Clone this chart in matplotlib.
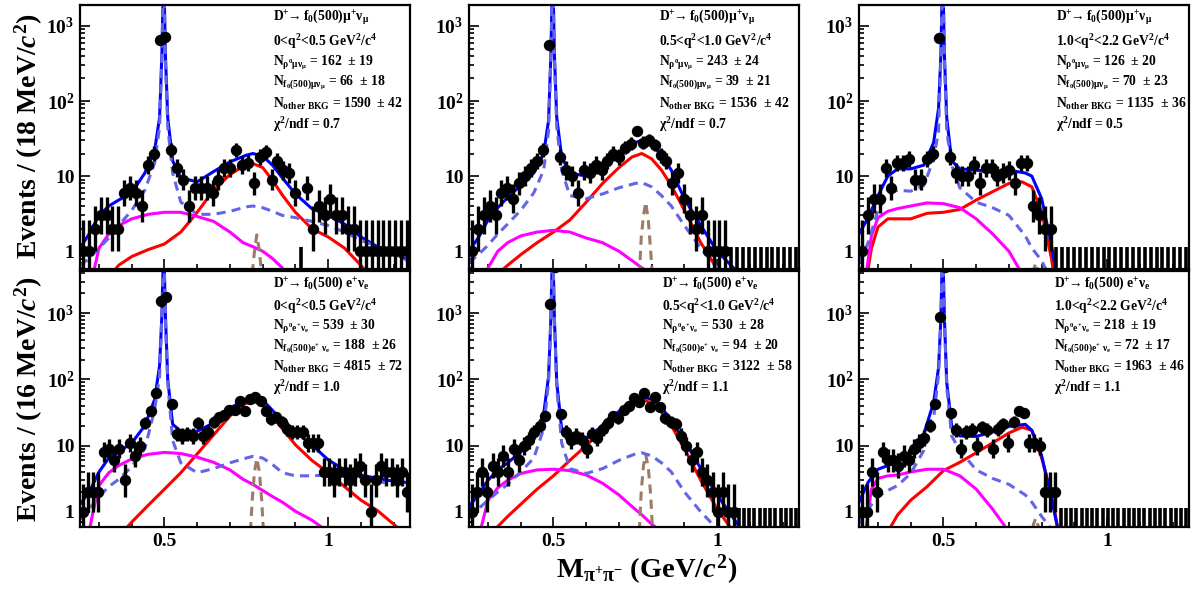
import numpy as np
import matplotlib
matplotlib.use('Agg')
import matplotlib.pyplot as plt
from matplotlib.ticker import FixedLocator, FixedFormatter, LogLocator, NullFormatter

plt.rcParams['font.family'] = ['Liberation Serif', 'DejaVu Serif']
plt.rcParams['font.weight'] = 'bold'
plt.rcParams['mathtext.fontset'] = 'custom'
plt.rcParams['mathtext.rm'] = 'Liberation Serif:bold'
plt.rcParams['mathtext.it'] = 'Liberation Serif:italic:bold'
plt.rcParams['mathtext.bf'] = 'Liberation Serif:bold'
plt.rcParams['mathtext.default'] = 'rm'

# binning: 56 bins of 18 MeV (mu) and 63 bins of 16 MeV (e), 0.242 - 1.25 GeV
x_lo, x_hi = 0.242, 1.25
n_bins_mu, n_bins_e = 56, 63

# ---- data counts per bin ----
cnt_mu_q1 = [1, 1, 2, 3, 3, 2, 2, 6, 7, 6, 4, 14, 20, 650, 720,
             22, 13, 9, 4, 7, 7, 7, 6, 9, 13, 13, 22, 14, 15, 8, 18, 21, 9, 16, 12, 11,
             6, 0, 7, 2, 4, 3, 5, 3, 3, 2, 2, 1, 1, 1, 1, 1, 1, 1, 1, 1]
cnt_mu_q2 = [1, 2, 3, 4, 3, 6, 7, 5, 8, 10, 13, 16, 22, 560, 2500,
             18, 12, 10, 6, 12, 11, 14, 12, 16, 20, 18, 24, 27, 40, 28, 30, 26, 19, 16, 8,
             11, 5, 3, 2, 3, 1, 1, 1, 1] + [0] * 12
cnt_mu_q3 = [1, 3, 5, 5, 13, 7, 15, 15, 17, 9, 9, 17, 20, 690, 2400,
             18, 11, 10, 10, 14, 8, 13, 13, 10, 11, 12, 8, 15, 15, 4, 3, 2, 2] + [0] * 23
cnt_e_q1 = [1, 2, 2, 2, 8, 9, 6, 9, 3, 11, 7, 10, 22, 33, 62, 1550, 1750,
            42, 15, 14, 15, 14, 22, 14, 16, 23, 27, 29, 35, 35, 47, 33, 51, 55, 47, 33,
            25, 27, 23, 18, 16, 16, 16, 11, 11, 11,
            4, 4, 3, 4, 4, 3, 4, 5, 3, 1, 3, 5, 4, 4, 3, 4, 2]
cnt_e_q2 = [1, 2, 4, 2, 5, 4, 7, 4, 9, 6, 10, 12, 16, 20, 28, 1370, 5000,
            30, 16, 12, 14, 12, 9, 15, 13, 18, 22, 28, 26, 35, 40, 53, 46, 63, 39, 55,
            38, 26, 23, 21, 14, 10, 6, 8, 4, 3, 2, 1, 2, 1, 1] + [0] * 12
cnt_e_q3 = [1, 1, 4, 2, 8, 6, 6, 5, 7, 6, 9, 11, 13, 20, 42, 870, 5000,
            31, 17, 9, 16, 17, 10, 19, 17, 9, 18, 21, 11, 23, 33, 31, 11, 11, 10,
            2, 2, 2] + [0] * 25

# ---- fit curves ----
xs_peak = [0.242, 0.27, 0.30, 0.33, 0.36, 0.40, 0.44, 0.47, 0.485, 0.492, 0.4976, 0.503,
           0.51, 0.525, 0.55, 0.60, 0.65, 0.70, 0.75, 0.77, 0.80, 0.83, 0.86, 0.90,
           0.95, 1.00, 1.05, 1.10, 1.15, 1.20, 1.25]
xs_comp = [0.242, 0.28, 0.30, 0.33, 0.36, 0.40, 0.45, 0.50, 0.55, 0.60, 0.65, 0.70, 0.74,
           0.77, 0.80, 0.83, 0.86, 0.90, 0.95, 1.00, 1.05, 1.10, 1.15, 1.20, 1.25]
xs_omega = [0.76, 0.768, 0.775, 0.782, 0.79, 0.797, 0.805]

tot_mu_q1 = [1.1, 1.7, 3.0, 4.0, 4.8, 6.0, 11, 22, 60, 400, 6000, 400, 60, 16, 9.5, 8.4,
             11.5, 15.5, 19, 20, 18.5, 14, 9.5, 5.8, 3.7, 3.0, 2.3, 1.55, 1.15, 0.94, 0.74]
bkg_mu_q1 = [0.65, 0.8, 1.1, 1.5, 2.2, 3.5, 6.5, 15, 45, 350, 6000, 350, 45, 11, 4.5, 3.1,
             3.1, 3.4, 3.9, 4.0, 3.8, 3.4, 3.0, 2.8, 2.5, 2.2, 1.8, 1.4, 1.15, 0.94, 0.72]
rho_mu_q1 = [0.2, 0.25, 0.3, 0.45, 0.65, 0.85, 1.05, 1.25, 1.8, 3.3, 6.5, 10.5, 13.5, 14.7,
             13, 8.8, 5.6, 3.3, 2.0, 1.55, 1.1, 0.65, 0.35, 0.2, 0.1]
f0_mu_q1 = [0.1, 0.45, 1.1, 1.7, 2.2, 2.7, 3.1, 3.3, 3.3, 2.9, 2.5, 1.8, 1.3, 1.15, 1.0,
            0.8, 0.6, 0.35, 0.2, 0.1, 0.1, 0.1, 0.1, 0.1, 0.1]
om_mu_q1 = [0.2, 0.5, 1.0, 1.65, 1.0, 0.5, 0.2]

tot_mu_q2 = [1.0, 1.5, 2.6, 3.8, 5.2, 7.5, 11, 20, 55, 400, 6000, 400, 60, 18, 11, 10,
             13, 20, 28, 30, 27, 19, 12, 5, 2.2, 1.0, 0.6, 0.35, 0.2, 0.1, 0.05]
bkg_mu_q2 = [0.7, 0.9, 1.2, 1.7, 2.3, 3.5, 6, 12, 40, 350, 6000, 350, 45, 12, 5.5, 5,
             5.8, 7, 8, 8.2, 7.2, 5.5, 4, 2.2, 1.1, 0.6, 0.35, 0.2, 0.1, 0.1, 0.05]
rho_mu_q2 = [0.2, 0.3, 0.38, 0.5, 0.65, 0.9, 1.3, 1.8, 2.6, 4.5, 8, 13, 18, 20, 17, 12,
             7.5, 3.5, 1.3, 0.58, 0.3, 0.15, 0.1, 0.1, 0.1]
f0_mu_q2 = [0.2, 0.4, 0.6, 1.0, 1.3, 1.6, 1.8, 1.9, 1.8, 1.5, 1.3, 1.0, 0.75, 0.6, 0.5,
            0.35, 0.25, 0.15, 0.1, 0.1, 0.1, 0.1, 0.1, 0.1, 0.1]
om_mu_q2 = [0.3, 1.5, 3.0, 4.5, 2.5, 1.0, 0.3]

tot_mu_q3 = [1.7, 2.8, 5.5, 10, 12.5, 12.5, 14, 28, 80, 400, 6000, 400, 60, 16, 12.5, 12,
             11.5, 12, 11, 10, 5, 1.2, 0.2, 0.05, 0.05, 0.05, 0.05, 0.05, 0.05, 0.05, 0.05]
bkg_mu_q3 = [0.7, 1.3, 3.5, 5.8, 6.5, 6.3, 7.5, 17, 40, 350, 6000, 350, 40, 14, 7, 4.5,
             3.8, 3.0, 1.6, 1.1, 0.75, 0.4, 0.2, 0.05, 0.05, 0.05, 0.05, 0.05, 0.05, 0.05, 0.05]
rho_mu_q3 = [0.1, 1.1, 2.1, 2.7, 2.7, 2.7, 3.2, 3.3, 3.6, 4.8, 6.2, 8.0, 8.4, 7.2, 3.3,
             0.8, 0.1, 0.05, 0.05, 0.05, 0.05, 0.05, 0.05, 0.05, 0.05]
f0_mu_q3 = [0.1, 1.6, 2.8, 3.4, 3.7, 4.0, 4.4, 4.3, 3.8, 2.7, 1.7, 1.0, 0.5, 0.3, 0.15,
            0.05, 0.05, 0.05, 0.05, 0.05, 0.05, 0.05, 0.05, 0.05, 0.05]
om_mu_q3 = [0.2, 0.35, 0.55, 0.7, 0.5, 0.3, 0.1]

tot_e_q1 = [1.3, 2.0, 4.0, 6.5, 8.0, 11, 20, 50, 160, 900, 12000, 900, 100, 21, 16.5, 16.5,
            22, 37, 50, 53, 49, 34, 24, 16, 10.3, 6.1, 4.3, 3.6, 3.2, 2.9, 2.75]
bkg_e_q1 = [0.78, 1.1, 1.7, 2.4, 3.1, 4.8, 9, 35, 110, 850, 12000, 850, 90, 12, 5.5, 3.9,
            4.5, 5.5, 6.5, 6.9, 6.5, 5.2, 3.9, 3.5, 3.5, 3.6, 3.4, 3.2, 2.9, 2.6, 2.4]
rho_e_q1 = [0.1, 0.15, 0.2, 0.3, 0.42, 0.7, 1.25, 2.2, 3.9, 7.5, 14.5, 28, 42, 47, 41, 28,
            18, 10.3, 6.0, 3.9, 2.4, 1.5, 1.05, 0.65, 0.4]
f0_e_q1 = [0.1, 0.9, 2.5, 3.9, 5.0, 6.3, 7.4, 7.9, 7.6, 6.7, 5.6, 4.3, 3.1, 2.6, 2.1, 1.7,
           1.4, 1.02, 0.75, 0.5, 0.35, 0.25, 0.2, 0.2, 0.2]
om_e_q1 = [0.3, 1.5, 4.0, 6.4, 4.0, 1.5, 0.3]

tot_e_q2 = [1.2, 1.8, 3.0, 4.3, 5.5, 8, 13, 30, 110, 800, 12000, 800, 90, 18, 13, 13,
            20, 33, 50, 55, 50, 38, 24, 12, 4.5, 1.8, 0.8, 0.35, 0.2, 0.1, 0.1]
bkg_e_q2 = [0.8, 1.1, 1.5, 2.0, 2.6, 4, 6.5, 18, 90, 750, 12000, 750, 75, 11, 4.5, 3.8,
            4.5, 6, 7.5, 7.8, 7, 5.5, 4, 2, 1.0, 0.55, 0.3, 0.15, 0.15, 0.15, 0.15]
rho_e_q2 = [0.15, 0.25, 0.35, 0.6, 0.85, 1.3, 2.2, 3.5, 6, 10, 17, 28, 42, 50, 44, 32,
            20, 9, 3.0, 1.1, 0.5, 0.2, 0.1, 0.1, 0.1]
f0_e_q2 = [0.2, 0.6, 1.5, 2.3, 3.0, 3.8, 4.3, 4.4, 4.2, 3.6, 2.7, 1.8, 1.2, 0.9, 0.65,
           0.5, 0.35, 0.2, 0.1, 0.1, 0.1, 0.1, 0.1, 0.1, 0.1]
om_e_q2 = [0.3, 2.0, 5.0, 7.3, 4.5, 1.8, 0.3]

tot_e_q3 = [1.4, 2.8, 4.4, 5.0, 5.8, 7.5, 15, 45, 150, 800, 12000, 800, 90, 20, 14, 13.8,
            16, 19.5, 21, 17, 7, 1.6, 0.3, 0.05, 0.05, 0.05, 0.05, 0.05, 0.05, 0.05, 0.05]
bkg_e_q3 = [0.65, 1.1, 1.7, 2.1, 2.5, 3.8, 8.5, 26, 120, 750, 12000, 750, 75, 14, 8.5, 4.3,
            3.2, 2.6, 1.8, 1.4, 0.85, 0.55, 0.3, 0.05, 0.05, 0.05, 0.05, 0.05, 0.05, 0.05, 0.05]
rho_e_q3 = [0.1, 0.15, 0.25, 0.5, 0.9, 1.5, 2.4, 4.2, 5.6, 7.8, 11, 15.5, 19, 17, 6.5,
            1.8, 0.3, 0.05, 0.05, 0.05, 0.05, 0.05, 0.05, 0.05, 0.05]
f0_e_q3 = [0.1, 2.2, 3.2, 3.5, 3.6, 4.0, 4.4, 4.4, 3.5, 2.2, 1.1, 0.5, 0.25, 0.15, 0.05,
           0.05, 0.05, 0.05, 0.05, 0.05, 0.05, 0.05, 0.05, 0.05, 0.05]
om_e_q3 = [0.2, 0.4, 0.65, 0.8, 0.6, 0.35, 0.15]

# ---- fit results ----
q2_bins = ['0<q$^{2}$<0.5 GeV$^{2}$/c$^{4}$', '0.5<q$^{2}$<1.0 GeV$^{2}$/c$^{4}$',
           '1.0<q$^{2}$<2.2 GeV$^{2}$/c$^{4}$']
n_rho_mu = [(162, 19), (243, 24), (126, 20)]
n_f0_mu = [(66, 18), (39, 21), (70, 23)]
n_oth_mu = [(1590, 42), (1536, 42), (1135, 36)]
chi2_mu = ['0.7', '0.7', '0.5']
n_rho_e = [(539, 30), (530, 28), (218, 19)]
n_f0_e = [(188, 26), (94, 20), (72, 17)]
n_oth_e = [(4815, 72), (3122, 58), (1963, 46)]
chi2_e = ['1.0', '1.1', '1.1']

fig = plt.figure(figsize=(11.91, 5.93), dpi=100)
W, H = 1191.0, 593.0
col_left = [80, 469, 859]
col_w = 330
row_top = [(5, 269), (271, 527)]


def make_ax(col, row):
    t, b = row_top[row]
    return fig.add_axes([col_left[col] / W, 1 - b / H, col_w / W, (b - t) / H])


def draw(ax, nbins, counts, tot, bkg, rho, f0, om, ylim, xlabels):
    edges = np.linspace(x_lo, x_hi, nbins + 1)
    cen = 0.5 * (edges[1:] + edges[:-1])
    ax.plot(xs_comp, rho, color='#ff0000', lw=2.2)
    ax.plot(xs_comp, f0, color='#ff00ff', lw=2.2)
    ax.plot(xs_omega, om, color='#9c7b68', lw=2.2, ls=(0, (3, 2)))
    ax.plot(xs_peak, tot, color='#0000ff', lw=2.2)
    ax.plot(xs_peak, bkg, color='#6464e6', lw=2.2, ls=(0, (3, 2)))
    n = np.array(counts, float)
    pos = n > 0
    lo = n + 0.5 - np.sqrt(n + 0.25)
    hi = n + 0.5 + np.sqrt(n + 0.25)
    ax.vlines(cen[pos], lo[pos], hi[pos], color='k', lw=2.4)
    ax.vlines(cen[~pos], ylim[0], 1.15, color='k', lw=2.6)
    ax.plot(cen[pos], n[pos], 'o', color='k', ms=7.2)

    ax.set_yscale('log')
    ax.set_xlim(x_lo, x_hi)
    ax.set_ylim(*ylim)
    ax.yaxis.set_major_locator(FixedLocator([1, 10, 100, 1000]))
    ax.yaxis.set_major_formatter(FixedFormatter(['1', '10', '10$^{2}$', '10$^{3}$']))
    ax.yaxis.set_minor_locator(LogLocator(base=10, subs=np.arange(2, 10)))
    ax.yaxis.set_minor_formatter(NullFormatter())
    ax.xaxis.set_major_locator(FixedLocator([0.5, 1.0]))
    ax.xaxis.set_minor_locator(FixedLocator([0.3, 0.4, 0.6, 0.7, 0.8, 0.9, 1.1, 1.2]))
    if xlabels:
        ax.xaxis.set_major_formatter(FixedFormatter(['0.5', '1']))
    else:
        ax.xaxis.set_major_formatter(NullFormatter())
    ax.tick_params(which='both', direction='in', top=False, right=False, width=1.2,
                   labelsize=14)
    ax.tick_params(which='major', length=7, pad=4)
    ax.tick_params(which='minor', length=3.5)
    for s in ax.spines.values():
        s.set_linewidth(1.6)


def legend(ax, lines, x):
    for yy, s in zip([0.952, 0.862, 0.782, 0.705, 0.625, 0.546], lines):
        ax.text(x, yy, s, transform=ax.transAxes, fontsize=9.8, fontweight='bold',
                ha='left', va='center')


mu_sets = [
    (cnt_mu_q1, tot_mu_q1, bkg_mu_q1, rho_mu_q1, f0_mu_q1, om_mu_q1),
    (cnt_mu_q2, tot_mu_q2, bkg_mu_q2, rho_mu_q2, f0_mu_q2, om_mu_q2),
    (cnt_mu_q3, tot_mu_q3, bkg_mu_q3, rho_mu_q3, f0_mu_q3, om_mu_q3),
]
e_sets = [
    (cnt_e_q1, tot_e_q1, bkg_e_q1, rho_e_q1, f0_e_q1, om_e_q1),
    (cnt_e_q2, tot_e_q2, bkg_e_q2, rho_e_q2, f0_e_q2, om_e_q2),
    (cnt_e_q3, tot_e_q3, bkg_e_q3, rho_e_q3, f0_e_q3, om_e_q3),
]
leg_x_mu = [0.584, 0.577, 0.596]
leg_x_e = [0.584, 0.586, 0.590]

for i in range(3):
    ax = make_ax(i, 0)
    draw(ax, n_bins_mu, *mu_sets[i], ylim=(0.58, 1900), xlabels=False)
    legend(ax, [
        r'D$^{+}\!\!\rightarrow$f$_{0}$(500)$\mu^{+}\nu_{\mu}$',
        q2_bins[i],
        r'N$_{\rho^{0}\mu\nu_{\mu}}$ = %d  ± %d' % n_rho_mu[i],
        r'N$_{\mathrm{f_{0}(500)}\mu\nu_{\mu}}$ = %d  ± %d' % n_f0_mu[i],
        r'N$_{\mathrm{other\ BKG}}$ = %d  ± %d' % n_oth_mu[i],
        r'$\chi^{2}$/ndf = ' + chi2_mu[i],
    ], leg_x_mu[i])

    ax = make_ax(i, 1)
    draw(ax, n_bins_e, *e_sets[i], ylim=(0.59, 4350), xlabels=True)
    legend(ax, [
        r'D$^{+}\!\!\rightarrow$f$_{0}$(500) e$^{+}\nu_{e}$',
        q2_bins[i],
        r'N$_{\rho^{0}e^{+}\nu_{e}}$ = %d  ± %d' % n_rho_e[i],
        r'N$_{\mathrm{f_{0}(500)e^{+}\ \nu_{e}}}$ = %d  ± %d' % n_f0_e[i],
        r'N$_{\mathrm{other\ BKG}}$ = %d  ± %d' % n_oth_e[i],
        r'$\chi^{2}$/ndf = ' + chi2_e[i],
    ], leg_x_e[i])

fig.text(0.024, 1 - 136 / H, r'Events / (18 MeV/$\mathit{c}^{2}$)', rotation=90,
         ha='center', va='center', fontsize=20, fontweight='bold')
fig.text(0.024, 1 - 399 / H, r'Events / (16 MeV/$\mathit{c}^{2}$)', rotation=90,
         ha='center', va='center', fontsize=20, fontweight='bold')
fig.text(647 / W, 1 - 570 / H, r'M$_{\pi^{+}\pi^{-}}$ (GeV/$\mathit{c}^{2}$)',
         ha='center', va='center', fontsize=20.5, fontweight='bold')

fig.savefig('out.png', dpi=100)
